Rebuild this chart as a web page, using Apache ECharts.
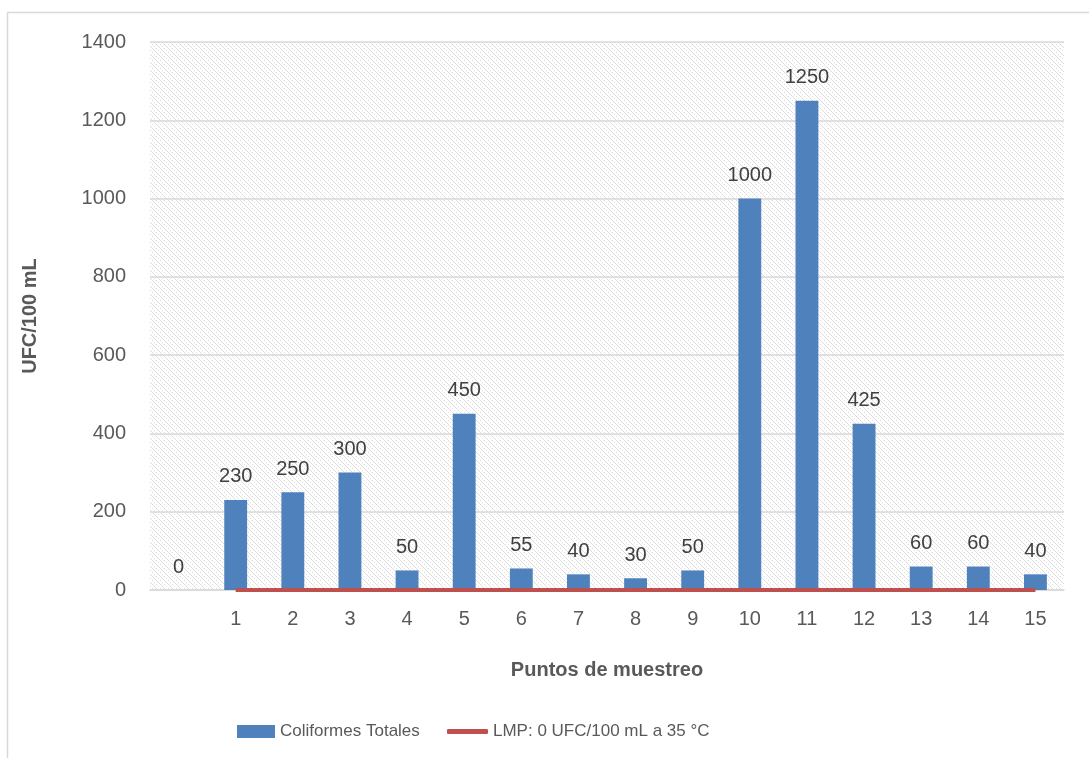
<!DOCTYPE html>
<html>
<head>
<meta charset="utf-8">
<script src="https://cdn.jsdelivr.net/npm/echarts@6/dist/echarts.min.js"></script>
<style>
html,body{margin:0;padding:0;background:#fff;}
#c{width:1089px;height:758px;}
</style>
</head>
<body>
<div id="c"></div>
<script>
var categories = ['', '1', '2', '3', '4', '5', '6', '7', '8', '9', '10', '11', '12', '13', '14', '15'];
var coliformes = [0, 230, 250, 300, 50, 450, 55, 40, 30, 50, 1000, 1250, 425, 60, 60, 40];
var lmp = [null, 0, 0, 0, 0, 0, 0, 0, 0, 0, 0, 0, 0, 0, 0, 0];
var yTicks = { min: 0, max: 1400, interval: 200 };

function makePattern() {
  var c = document.createElement('canvas');
  c.width = 8; c.height = 8;
  var ctx = c.getContext('2d');
  ctx.fillStyle = '#ffffff';
  ctx.fillRect(0, 0, 8, 8);
  ctx.fillStyle = '#dedede';
  for (var i = 0; i < 8; i++) {
    ctx.fillRect(i, i, 1, 1);
    if (i % 2 === 0) ctx.fillRect(i, (i + 4) % 8, 1, 1);
  }
  return c;
}

var FONT = 'Liberation Sans';
var legendText = { fontSize: 17, color: '#595959', fontFamily: FONT };
var chart = echarts.init(document.getElementById('c'), null, { renderer: 'canvas' });
chart.setOption({
  animation: false,
  backgroundColor: '#ffffff',
  textStyle: { fontFamily: FONT },
  graphic: [{
    type: 'rect',
    shape: { x: 7.5, y: 12.5, width: 1200, height: 900 },
    style: { fill: 'none', stroke: '#d9d9d9', lineWidth: 1.5 },
    silent: true, z: -10
  }],
  grid: {
    left: 150, right: 25, top: 42, bottom: 168,
    show: true,
    backgroundColor: { image: makePattern(), repeat: 'repeat' },
    borderWidth: 0
  },
  legend: [
    {
      left: 232, top: 718,
      itemWidth: 38, itemHeight: 13,
      textStyle: legendText,
      data: [{ name: 'Coliformes Totales', icon: 'rect' }]
    },
    {
      left: 442, top: 718,
      itemWidth: 41, itemHeight: 5,
      textStyle: legendText,
      data: [{ name: 'LMP: 0 UFC/100 mL a 35 °C', icon: 'roundRect' }]
    }
  ],
  xAxis: {
    type: 'category',
    data: categories,
    name: 'Puntos de muestreo',
    nameLocation: 'middle',
    nameGap: 70,
    nameTextStyle: { fontSize: 20, fontWeight: 'bold', color: '#595959', fontFamily: FONT },
    axisLine: { show: true, lineStyle: { color: '#d9d9d9', width: 1.5 } },
    axisTick: { show: false },
    axisLabel: { fontSize: 20, color: '#595959', margin: 19 }
  },
  yAxis: {
    type: 'value',
    min: yTicks.min, max: yTicks.max, interval: yTicks.interval,
    name: 'UFC/100 mL',
    nameLocation: 'middle',
    nameGap: 110,
    nameRotate: 90,
    nameTextStyle: { fontSize: 20, fontWeight: 'bold', color: '#595959', fontFamily: FONT },
    axisLine: { show: false },
    axisTick: { show: false },
    axisLabel: { fontSize: 20, color: '#595959', margin: 24, formatter: function (v) { return String(v); } },
    splitLine: { lineStyle: { color: '#d9d9d9', width: 1.5 } }
  },
  series: [
    {
      name: 'Coliformes Totales',
      type: 'bar',
      data: coliformes,
      barWidth: '40%',
      itemStyle: { color: '#4f81bd' },
      label: { show: true, position: 'top', distance: 13, fontSize: 20, color: '#404040' },
      z: 2
    },
    {
      name: 'LMP: 0 UFC/100 mL a 35 °C',
      type: 'line',
      data: lmp,
      symbol: 'none',
      lineStyle: { color: '#c0504d', width: 4 },
      itemStyle: { color: '#c0504d' },
      z: 3
    }
  ]
});
</script>
</body>
</html>
